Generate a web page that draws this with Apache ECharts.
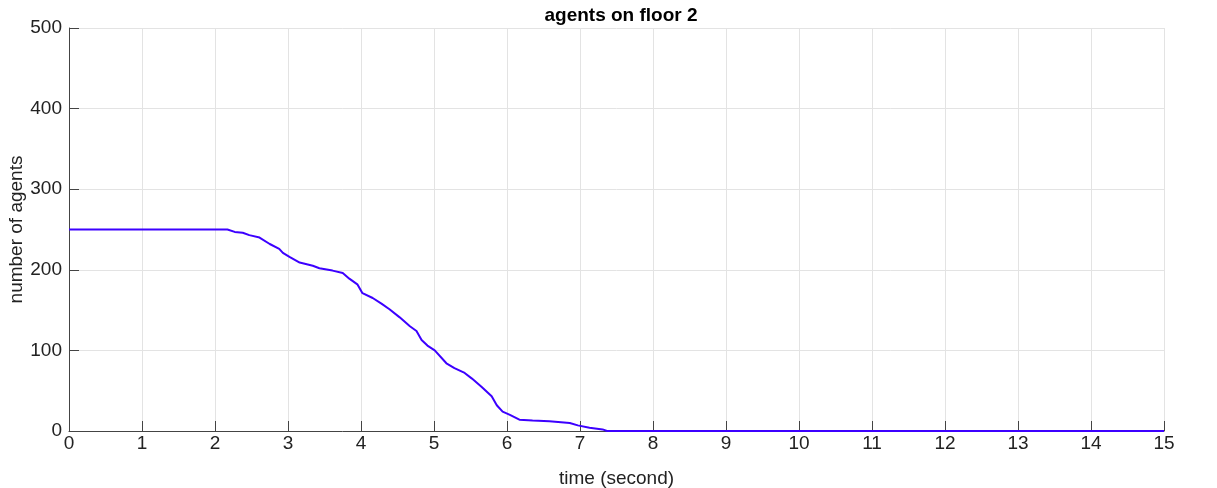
<!DOCTYPE html>
<html>
<head>
<meta charset="utf-8">
<script src="https://cdn.jsdelivr.net/npm/echarts@6/dist/echarts.min.js"></script>
<style>
html,body{margin:0;padding:0;background:#fff;}
#chart{width:1217px;height:488px;}
</style>
</head>
<body>
<div id="chart"></div>
<script>
const titleText = 'agents on floor 2';
const xName = 'time (second)';
const yName = 'number of agents';
const times  = [0, 2.17, 2.27, 2.38, 2.47, 2.61, 2.75, 2.88, 2.93, 3.02, 3.16, 3.34, 3.43, 3.61, 3.75, 3.84, 3.95, 4.02, 4.16, 4.28, 4.39, 4.53, 4.67, 4.76, 4.83, 4.91, 5.01, 5.17, 5.28, 5.42, 5.52, 5.65, 5.79, 5.86, 5.94, 6.04, 6.17, 6.35, 6.58, 6.86, 6.97, 7.13, 7.31, 7.37, 15];
const agents = [250, 250, 247, 246, 243, 240, 232, 226, 221, 216, 209, 205, 202, 199, 196, 189, 182, 171, 165, 158, 151, 141, 130, 124, 113, 106, 100, 84, 78, 72, 65, 55, 43, 32, 24, 20, 14, 13, 12, 10, 7, 4, 2, 0, 0];
const xTicks = [0, 15, 1];
const yTicks = [0, 500, 100];

const chart = echarts.init(document.getElementById('chart'), null, {renderer:'canvas'});
const font = 'Liberation Sans, Arial, sans-serif';
chart.setOption({
  animation: false,
  backgroundColor: '#fff',
  title: {
    text: titleText, left: 616, top: 1, textAlign: 'center',
    textStyle: {fontFamily: font, fontWeight: 'bold', fontSize: 19, color: '#000'}
  },
  grid: {left: 69, right: 53, top: 28, bottom: 57, containLabel: false, outerBoundsMode: 'none'},
  xAxis: {
    type: 'value', min: xTicks[0], max: xTicks[1], interval: xTicks[2],
    name: xName, nameLocation: 'middle', nameGap: 38,
    nameTextStyle: {fontFamily: font, fontSize: 19, color: '#222'},
    axisLine: {show: true, onZero: false, lineStyle: {color: '#444', width: 1}},
    axisTick: {show: true, inside: true, length: 10, lineStyle: {color: '#444'}},
    axisLabel: {fontFamily: font, fontSize: 19, color: '#222', margin: 3},
    splitLine: {show: true, lineStyle: {color: '#e3e3e3', width: 1}}
  },
  yAxis: {
    type: 'value', min: yTicks[0], max: yTicks[1], interval: yTicks[2],
    name: yName, nameLocation: 'middle', nameGap: 43, nameMoveOverlap: false,
    nameTextStyle: {fontFamily: font, fontSize: 19, color: '#222'},
    axisLine: {show: true, onZero: false, lineStyle: {color: '#444', width: 1}},
    axisTick: {show: true, inside: true, length: 10, lineStyle: {color: '#444'}},
    axisLabel: {fontFamily: font, fontSize: 19, color: '#222', margin: 7},
    splitLine: {show: true, lineStyle: {color: '#e3e3e3', width: 1}}
  },
  series: [{
    type: 'line',
    data: times.map((t, i) => [t, agents[i]]),
    showSymbol: false,
    lineStyle: {color: '#3c00ff', width: 2},
    z: 5
  }]
});
</script>
</body>
</html>
